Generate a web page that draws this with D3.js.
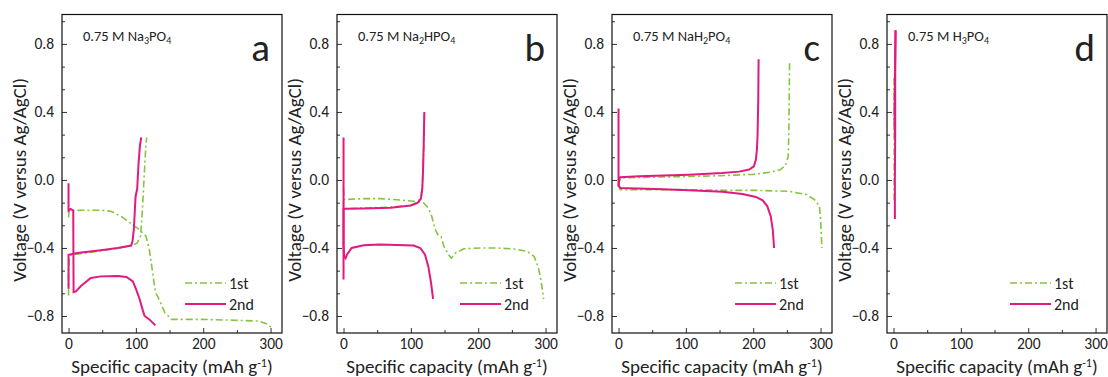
<!DOCTYPE html>
<html>
<head>
<meta charset="utf-8">
<script src="https://cdn.jsdelivr.net/npm/d3@7"></script>
<style>
  body { margin: 0; background: #fff; }
  svg text { font-family: Carlito, Lato, "Liberation Sans", sans-serif; fill: #222; }
</style>
</head>
<body>
<div id="chart"></div>
<script>
// data: [capacity (mAh/g), voltage (V vs Ag/AgCl)]
const aFirstCharge = [[0,-0.68],[0,-0.55],[1,-0.46],[4,-0.44],[25,-0.43],[50,-0.415],[75,-0.40],[95,-0.385],[102,-0.37],[107,-0.33],[109.5,-0.19],[112,0],[114.5,0.18],[116,0.25]];
const aFirstDischarge = [[0,-0.22],[1,-0.18],[23,-0.178],[48,-0.178],[63,-0.184],[78,-0.214],[93,-0.257],[105,-0.292],[115,-0.33],[120,-0.41],[125,-0.547],[129,-0.66],[133,-0.69],[143,-0.78],[153,-0.82],[198,-0.82],[247,-0.825],[282,-0.83],[297,-0.85],[301,-0.87]];
const aSecondCharge = [[0,-0.64],[0,-0.44],[13,-0.43],[48,-0.413],[73,-0.40],[93,-0.386],[95,-0.36],[97,-0.29],[99.5,-0.1],[102,-0.05],[104,0.1],[106,0.2],[108,0.25]];
const aSecondDischarge = [[0,-0.02],[0,-0.18],[3,-0.17],[7,-0.18],[7.5,-0.66],[11,-0.655],[18,-0.625],[33,-0.576],[48,-0.567],[73,-0.565],[86,-0.57],[95.5,-0.596],[100.5,-0.645],[105.5,-0.70],[110.5,-0.77],[113,-0.80],[120,-0.82],[129,-0.855]];

const bFirstCharge = [[0,-0.12],[0,-0.17],[5,-0.168],[30,-0.165],[70,-0.16],[100,-0.148],[110,-0.13],[115,-0.1],[117,-0.03],[118.5,0.1],[119.5,0.25],[120,0.4]];
const bFirstDischarge = [[0,-0.05],[1,-0.115],[30,-0.11],[55,-0.11],[79,-0.116],[104,-0.125],[119,-0.135],[126,-0.165],[131,-0.214],[136,-0.29],[141,-0.33],[145,-0.335],[149,-0.39],[156,-0.44],[160,-0.46],[166,-0.43],[178.5,-0.405],[203,-0.40],[228,-0.40],[253,-0.406],[273,-0.42],[283,-0.45],[289,-0.51],[293,-0.586],[296,-0.665],[297,-0.70]];
const bSecondCharge = [[0,-0.585],[0,-0.17],[5,-0.17],[30,-0.168],[70,-0.163],[100,-0.15],[110,-0.135],[115,-0.11],[117,-0.05],[118,0.05],[119,0.2],[120,0.4]];
const bSecondDischarge = [[0,0.25],[0,-0.38],[1,-0.45],[3,-0.46],[5,-0.44],[12,-0.40],[30,-0.384],[54,-0.38],[104,-0.386],[114,-0.40],[121,-0.44],[126,-0.51],[130,-0.606],[133,-0.70]];

const cFirstCharge = [[0,-0.03],[3,0.012],[30,0.015],[100,0.02],[150,0.025],[200,0.033],[225,0.045],[240,0.06],[248,0.085],[252,0.14],[253,0.3],[254,0.69]];
const cFirstDischarge = [[0,-0.03],[2.5,-0.057],[55,-0.057],[104,-0.057],[154,-0.061],[204,-0.061],[254,-0.067],[279,-0.086],[291,-0.116],[298.5,-0.155],[300,-0.23],[301,-0.31],[302,-0.40]];
const cSecondCharge = [[0,-0.04],[1,0.01],[2.5,0.016],[30,0.022],[55,0.025],[104,0.031],[154,0.041],[179,0.049],[194,0.061],[201,0.08],[204,0.12],[205.5,0.178],[206.5,0.27],[207.5,0.47],[208,0.71]];
const cSecondDischarge = [[0,0.42],[0,-0.03],[2.5,-0.047],[55,-0.053],[104,-0.06],[154,-0.07],[184,-0.082],[204,-0.10],[214,-0.12],[221,-0.155],[226,-0.213],[229,-0.29],[231,-0.40]];

const dFirstCharge = [[1,-0.12],[1,0.2],[1.5,0.6]];
const dFirstDischarge = [[1,0.6],[1,0.3]];
const dSecondCharge = [[2,-0.23],[2,0.0],[2.5,0.3],[2.5,0.6],[3,0.88]];
const dSecondDischarge = [[3,0.88],[2,0.6],[1.5,0.4],[2,0.25]];

const panelLetters = ["a", "b", "c", "d"];
// electrolyte label pieces: [text, isSubscript]
const electrolytes = [
  [["0.75 M Na", false], ["3", true], ["PO", false], ["4", true]],
  [["0.75 M Na", false], ["2", true], ["HPO", false], ["4", true]],
  [["0.75 M NaH", false], ["2", true], ["PO", false], ["4", true]],
  [["0.75 M H", false], ["3", true], ["PO", false], ["4", true]]
];
const firstCycle = [
  [aFirstCharge, aFirstDischarge],
  [bFirstCharge, bFirstDischarge],
  [cFirstCharge, cFirstDischarge],
  [dFirstCharge, dFirstDischarge]
];
const secondCycle = [
  [aSecondCharge, aSecondDischarge],
  [bSecondCharge, bSecondDischarge],
  [cSecondCharge, cSecondDischarge],
  [dSecondCharge, dSecondDischarge]
];
const legendLabels = ["1st", "2nd"];
const xTicks = [0, 100, 200, 300];
const xMinorTicks = [50, 150, 250];
const yTicks = [-0.8, -0.4, 0, 0.4, 0.8];
const yMinorTicks = [-0.8 + 0.4/3, -0.8 + 0.8/3, -0.4 + 0.4/3, -0.4 + 0.8/3, 0.4/3, 0.8/3, 0.4 + 0.4/3, 0.4 + 0.8/3, 0.8 + 0.4/3];

// layout
const W = 1108, H = 377;
const panelW = 220, panelH = 318.5;
const panelTop = 14.5, firstLeft = 62, pitch = 275;
const green = "#86c440", pink = "#e2197e";

const svg = d3.select("#chart").append("svg")
  .attr("width", W)
  .attr("height", H);

const xScale = d3.scaleLinear().domain([-9.7, 317]).range([0, panelW]);
const yScale = d3.scaleLinear().domain([-0.9, 0.973]).range([panelH, 0]);

const line = d3.line()
  .x(d => xScale(d[0]))
  .y(d => yScale(d[1]));

panelLetters.forEach((letter, i) => {
  const g = svg.append("g")
    .attr("transform", "translate(" + (firstLeft + i * pitch) + "," + panelTop + ")");

  // axes, ticks pointing inward
  const xAxis = g.append("g")
    .attr("transform", "translate(0," + panelH + ")")
    .call(d3.axisBottom(xScale).tickValues(xTicks).tickSizeInner(-5).tickSizeOuter(0).tickPadding(5));
  g.append("g")
    .attr("transform", "translate(0," + panelH + ")")
    .call(d3.axisBottom(xScale).tickValues(xMinorTicks).tickSizeInner(-3).tickSizeOuter(0).tickFormat(""));
  const yAxis = g.append("g")
    .call(d3.axisLeft(yScale).tickValues(yTicks).tickSizeInner(-5).tickSizeOuter(0).tickPadding(8)
      .tickFormat(d3.format(".1f")));
  g.append("g")
    .call(d3.axisLeft(yScale).tickValues(yMinorTicks).tickSizeInner(-3).tickSizeOuter(0).tickFormat(""));

  g.selectAll(".domain").remove();
  g.selectAll(".tick line").attr("stroke", "#333");
  xAxis.selectAll("text").style("font-size", "15.5px").attr("fill", "#222");
  yAxis.selectAll("text").style("font-size", "15.5px").attr("fill", "#222");

  // frame
  g.append("rect")
    .attr("width", panelW)
    .attr("height", panelH)
    .attr("fill", "none")
    .attr("stroke", "#111")
    .attr("stroke-width", 1.2);

  // curves
  firstCycle[i].forEach(seg => {
    g.append("path")
      .attr("d", line(seg))
      .attr("fill", "none")
      .attr("stroke", green)
      .attr("stroke-width", 1.6)
      .attr("stroke-dasharray", "7,3,2,3");
  });
  secondCycle[i].forEach(seg => {
    g.append("path")
      .attr("d", line(seg))
      .attr("fill", "none")
      .attr("stroke", pink)
      .attr("stroke-width", 2);
  });

  // electrolyte label
  const lab = g.append("text")
    .attr("x", 21)
    .attr("y", 26)
    .style("font-size", "14.5px");
  let shifted = false;
  electrolytes[i].forEach(p => {
    const t = lab.append("tspan").text(p[0]);
    if (p[1]) { t.attr("dy", 3.5).style("font-size", "10px"); shifted = true; }
    else if (shifted) { t.attr("dy", -3.5); shifted = false; }
  });

  // panel letter
  g.append("text")
    .attr("x", 208)
    .attr("y", 46)
    .attr("text-anchor", "end")
    .style("font-size", "39px")
    .text(letter);

  // legend
  [green, pink].forEach((col, k) => {
    const ly = 268.5 + k * 21;
    g.append("line")
      .attr("x1", 123).attr("x2", 164)
      .attr("y1", ly).attr("y2", ly)
      .attr("stroke", col)
      .attr("stroke-width", k === 0 ? 1.6 : 2)
      .attr("stroke-dasharray", k === 0 ? "7,3,2,3" : null);
    g.append("text")
      .attr("x", 167)
      .attr("y", ly)
      .attr("dy", "0.35em")
      .style("font-size", "16px")
      .text(legendLabels[k]);
  });

  // axis titles
  const xt = g.append("text")
    .attr("x", panelW / 2)
    .attr("y", panelH + 40)
    .attr("text-anchor", "middle")
    .style("font-size", "19px");
  xt.append("tspan").text("Specific capacity (mAh g");
  xt.append("tspan").attr("dy", -6).style("font-size", "12px").text("-1");
  xt.append("tspan").attr("dy", 6).text(")");

  g.append("text")
    .attr("transform", "translate(-36," + yScale(0) + ") rotate(-90)")
    .attr("text-anchor", "middle")
    .style("font-size", "19px")
    .text("Voltage (V versus Ag/AgCl)");
});
</script>
</body>
</html>
